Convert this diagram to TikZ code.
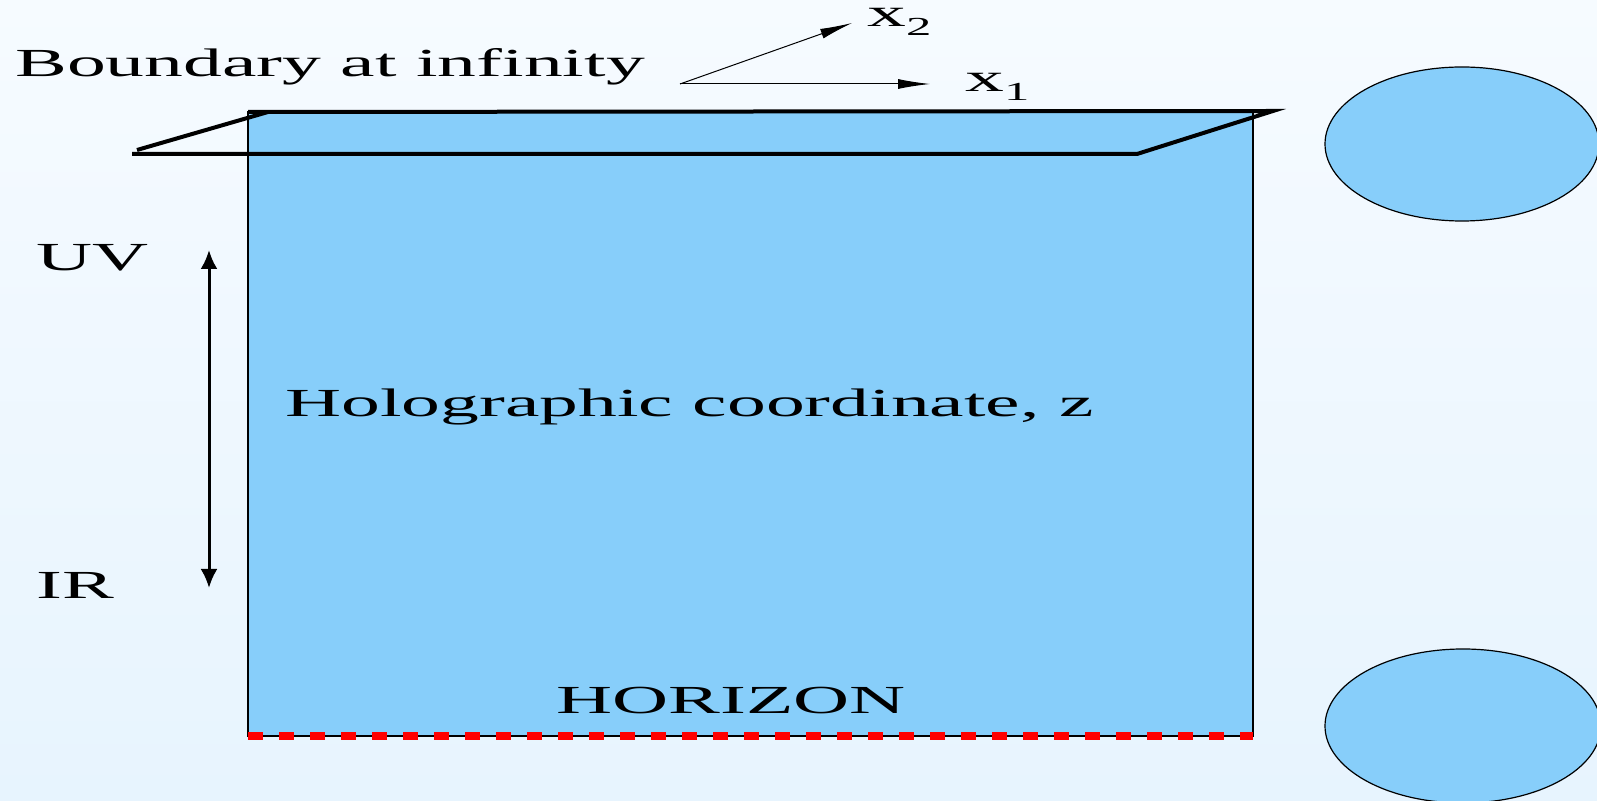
\documentclass[tikz,border=0pt]{standalone}
\usepackage{fontspec}
\setmainfont{Liberation Serif}[FakeStretch=1.95]
\usetikzlibrary{arrows.meta}
\definecolor{bgtop}{RGB}{246,251,255}
\definecolor{bgbot}{RGB}{231,244,254}
\definecolor{bulk}{RGB}{135,206,250}
\newcommand{\lblsize}{\fontsize{19.9}{23}\selectfont}
\newcommand{\subidx}[1]{\raisebox{-4.5pt}{\fontsize{13}{15}\selectfont #1}}
\begin{document}
\begin{tikzpicture}[x=0.5pt, y=-0.5pt,
  lbl/.style={anchor=base west, inner sep=0pt, font=\lblsize},
  axis/.style={-{Latex[length=16pt,width=5pt]}, line width=0.5pt},
  plane/.style={line width=2pt}]
  \useasboundingbox (0,0) rectangle (1597,801);
  \clip (0,0) rectangle (1597,801);
  \shade[top color=bgtop, bottom color=bgbot] (0,0) rectangle (1597,801);
  % bulk
  \draw[fill=bulk, line width=0.8pt] (248,112) rectangle (1253,736);
  \draw[red, line width=4pt, dash pattern=on 7.5pt off 8pt] (248,736) -- (1253,736);
  % boundary plane
  \draw[plane] (132,154) -- (1137,154) -- (1273,111) -- (248,112);
  \draw[plane] (137,150) -- (268,112);
  % the two blobs at the right
  \draw[fill=bulk, line width=0.6pt] (1462,144) ellipse [x radius=68.5pt, y radius=38.5pt];
  \draw[fill=bulk, line width=0.6pt] (1463,726) ellipse [x radius=69pt, y radius=38.5pt];
  % labels
  \node[lbl] (bdry) at (15,77) {Boundary at infinity};
  \node[lbl] (uv) at (36,271) {UV};
  \node[lbl] (ir) at (36,599) {IR};
  \node[lbl] (holo) at (285,417) {Holographic coordinate, z};
  \node[lbl] (hor) at (556,714) {HORIZON};
  \node[lbl] (x1) at (965,92) {x\subidx{1}};
  \node[lbl] (x2) at (867,27) {x\subidx{2}};
  % axes
  \coordinate (o) at (680,84);
  \coordinate (x1tip) at (930,84);
  \coordinate (x2tip) at (852,23);
  \draw[axis] (o) -- (x1tip);
  \draw[axis] (o) -- (x2tip);
  % UV <-> IR
  \coordinate (uvtip) at (209,250);
  \coordinate (irtip) at (209,588);
  \draw[{Latex[length=9.5pt,width=8.5pt]}-{Latex[length=9.5pt,width=8.5pt]}, line width=1.5pt] (uvtip) -- (irtip);
\end{tikzpicture}
\end{document}
